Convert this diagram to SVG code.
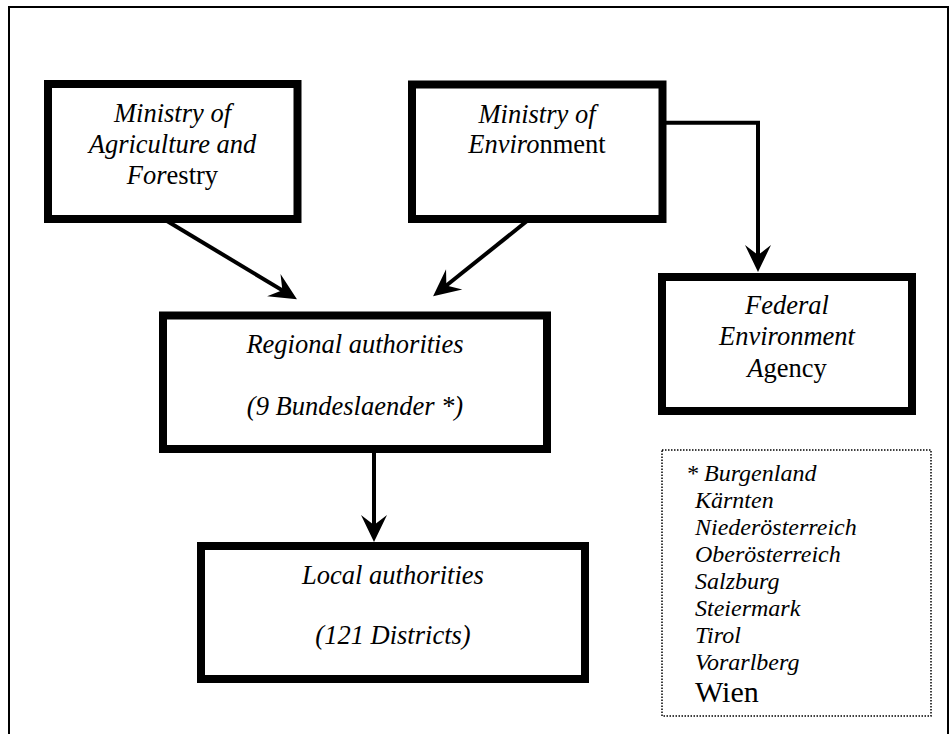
<svg xmlns="http://www.w3.org/2000/svg" width="951" height="734" viewBox="0 0 951 734">
<defs>
  <marker id="arrow" markerUnits="userSpaceOnUse" viewBox="-1 -14 30 28" markerWidth="30" markerHeight="28" refX="12" refY="0" orient="auto">
    <path d="M27,0 L0,-13 L10,0 L0,13 Z" fill="#000"/>
  </marker>
</defs>
<rect x="0" y="0" width="951" height="734" fill="#ffffff"/>
<rect id="frame" x="9" y="7" width="939" height="740" fill="none" stroke="#000" stroke-width="2"/>

<g id="connectors" fill="none" stroke="#000" stroke-width="4">
  <path d="M167,221 L284.1,291.4" marker-end="url(#arrow)"/>
  <path d="M527,221 L444.8,286.8" marker-end="url(#arrow)"/>
  <path d="M662,122.7 H758 V257" marker-end="url(#arrow)"/>
  <path d="M374,449 V527" marker-end="url(#arrow)"/>
</g>

<g id="ministry-agriculture" font-family="Liberation Serif, serif" font-size="26.5" font-style="italic" text-anchor="middle">
  <rect x="48" y="84" width="249.5" height="135" fill="#fff" stroke="#000" stroke-width="8"/>
  <text x="172.5" y="122" style="font-family: 'Liberation Serif', serif !important">Ministry of</text>
  <text x="172.5" y="153" style="font-family: 'Liberation Serif', serif !important">Agriculture and</text>
  <text x="172.5" y="184" style="font-family: 'Liberation Serif', serif !important">For<tspan font-style="normal" style="font-family: 'Liberation Serif', serif !important">estry</tspan></text>
</g>

<g id="ministry-environment" font-family="Liberation Serif, serif" font-size="26.5" font-style="italic" text-anchor="middle">
  <rect x="412" y="84.5" width="250.5" height="134.5" fill="#fff" stroke="#000" stroke-width="8"/>
  <text x="537" y="123" style="font-family: 'Liberation Serif', serif !important">Ministry of</text>
  <text x="537" y="153" style="font-family: 'Liberation Serif', serif !important">Enviro<tspan font-style="normal" style="font-family: 'Liberation Serif', serif !important">nment</tspan></text>
</g>

<g id="federal-agency" font-family="Liberation Serif, serif" font-size="26.5" font-style="italic" text-anchor="middle">
  <rect x="662" y="277" width="250" height="134" fill="#fff" stroke="#000" stroke-width="8"/>
  <text x="787" y="314" style="font-family: 'Liberation Serif', serif !important">Federal</text>
  <text x="787" y="345" style="font-family: 'Liberation Serif', serif !important">Environment</text>
  <text x="787" y="377" style="font-family: 'Liberation Serif', serif !important">A<tspan font-style="normal" style="font-family: 'Liberation Serif', serif !important">gency</tspan></text>
</g>

<g id="regional" font-family="Liberation Serif, serif" font-size="26.5" font-style="italic" text-anchor="middle">
  <rect x="163" y="315.5" width="384" height="133.5" fill="#fff" stroke="#000" stroke-width="8"/>
  <text x="355" y="353" style="font-family: 'Liberation Serif', serif !important">Regional authorities</text>
  <text x="355" y="415" style="font-family: 'Liberation Serif', serif !important">(9 Bundeslaender *)</text>
</g>

<g id="local" font-family="Liberation Serif, serif" font-size="26.5" font-style="italic" text-anchor="middle">
  <rect x="201" y="546" width="384" height="133" fill="#fff" stroke="#000" stroke-width="8"/>
  <text x="393" y="584" style="font-family: 'Liberation Serif', serif !important">Local authorities</text>
  <text x="393" y="644" style="font-family: 'Liberation Serif', serif !important">(121 Districts)</text>
</g>

<g id="legend" font-family="Liberation Serif, serif" font-size="24" font-style="italic">
  <rect x="662" y="450" width="269" height="266" fill="none" stroke="#000" stroke-width="1.5" stroke-dasharray="1.5 1.5"/>
  <text x="686" y="481" style="font-family: 'Liberation Serif', serif !important">* Burgenland</text>
  <text x="695" y="508" style="font-family: 'Liberation Serif', serif !important">Kärnten</text>
  <text x="695" y="535" style="font-family: 'Liberation Serif', serif !important">Niederösterreich</text>
  <text x="695" y="562" style="font-family: 'Liberation Serif', serif !important">Oberösterreich</text>
  <text x="695" y="589" style="font-family: 'Liberation Serif', serif !important">Salzburg</text>
  <text x="695" y="616" style="font-family: 'Liberation Serif', serif !important">Steiermark</text>
  <text x="695" y="643" style="font-family: 'Liberation Serif', serif !important">Tirol</text>
  <text x="695" y="670" style="font-family: 'Liberation Serif', serif !important">Vorarlberg</text>
  <text x="695" y="702" font-size="30" font-style="normal" style="font-family: 'Liberation Serif', serif !important">Wien</text>
</g>
</svg>
